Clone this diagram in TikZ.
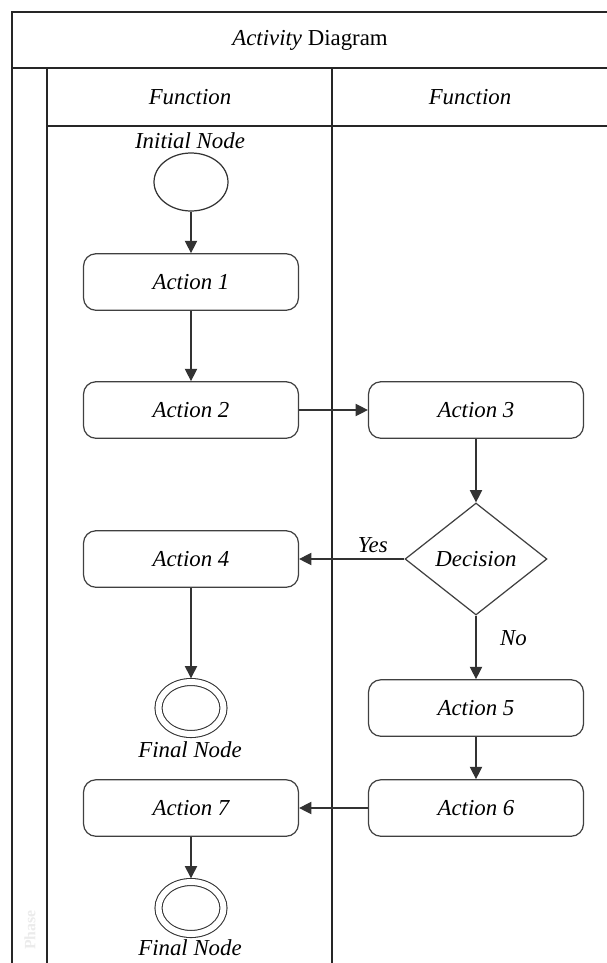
\documentclass[tikz,border=0pt]{standalone}
\usepackage{fontspec}
\setmainfont{Liberation Serif}
\usetikzlibrary{arrows.meta, positioning, shapes.geometric}

\tikzset{
  txt/.style={font=\fontsize{13}{15}\selectfont\itshape},
  action/.style={txt, draw=black!75, line width=0.7pt, rounded corners=7pt,
    minimum width=4.3cm, minimum height=1.13cm, inner sep=2pt},
  decision/.style={txt, diamond, draw=black!75, line width=0.7pt,
    minimum width=2.84cm, minimum height=2.24cm, inner sep=1pt},
  initnode/.style={ellipse, draw=black!80, line width=0.7pt,
    minimum width=1.48cm, minimum height=1.16cm},
  finalnode/.style={ellipse, draw=black!80, line width=0.6pt, double, double distance=3.4pt,
    minimum width=1.3cm, minimum height=1.04cm, outer sep=2.1pt},
  flow/.style={draw=black!80, line width=0.7pt, -{Triangle[length=7pt, width=7pt]}},
  lane/.style={draw=black!85, line width=1.1pt}
}

\begin{document}
\begin{tikzpicture}[x=0.02cm, y=-0.02cm]
  \useasboundingbox (0,0) rectangle (607,963);
  \clip (0,0) rectangle (607,963);

  % Frame and swimlanes
  \draw[lane] (12,12) rectangle (625,980);
  \draw[lane] (12,68) -- (625,68);
  \draw[lane] (47,126) -- (625,126);
  \draw[lane] (47,68) -- (47,980);
  \draw[lane] (332,68) -- (332,980);
  \node[font=\fontsize{13}{15}\selectfont] (title) at (310,40) {\textit{Activity} Diagram};
  \node[txt] (laneA) at (190,97) {Function};
  \node[txt] (laneB) at (470,97) {Function};
  \node[rotate=90, text=black!8, font=\fontsize{9}{11}\selectfont\bfseries] (phase) at (30,930) {Phase};

  % Activity nodes
  \node[txt] (initlbl) at (190,141) {Initial Node};
  \node[initnode] (start) at (191,182) {};
  \node[action] (act1) at (191,282) {Action 1};
  \node[action] (act2) at (191,410) {Action 2};
  \node[action] (act3) at (476,410) {Action 3};
  \node[decision] (dec) at (476,559) {Decision};
  \node[action] (act4) at (191,559) {Action 4};
  \node[finalnode] (fin1) at (191,708) {};
  \node[txt] (finlbl1) at (190,750) {Final Node};
  \node[action] (act5) at (476,708) {Action 5};
  \node[action] (act6) at (476,808) {Action 6};
  \node[action] (act7) at (191,808) {Action 7};
  \node[finalnode] (fin2) at (191,908) {};
  \node[txt] (finlbl2) at (190,948) {Final Node};

  % Control flows
  \draw[flow] (start) -- (act1);
  \draw[flow] (act1) -- (act2);
  \draw[flow] (act2) -- (act3);
  \draw[flow] (act3) -- (dec);
  \draw[flow] (dec.west) -- node[txt, above, pos=0.3] {Yes} (act4);
  \draw[flow] (act4) -- (fin1);
  \draw[flow] (dec.south) -- node[txt, right=10pt, pos=0.35] {No} (act5);
  \draw[flow] (act5) -- (act6);
  \draw[flow] (act6) -- (act7);
  \draw[flow] (act7) -- (fin2);
\end{tikzpicture}
\end{document}
